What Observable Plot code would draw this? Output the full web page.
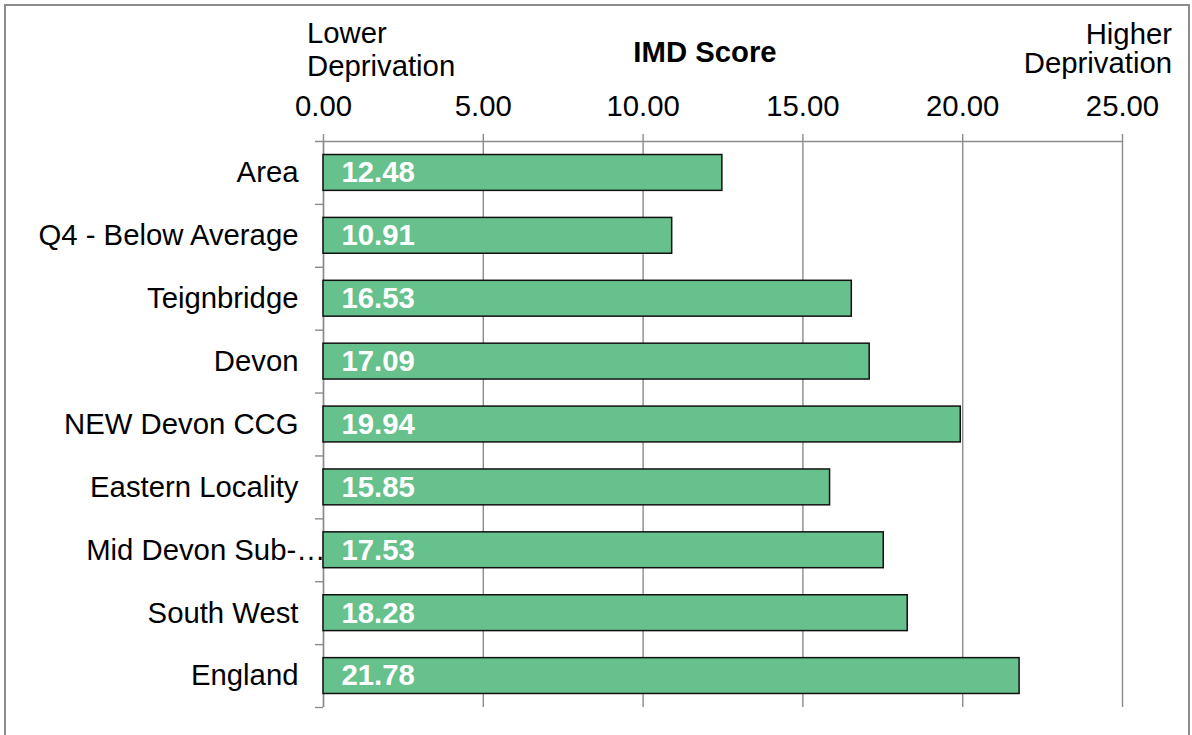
<!DOCTYPE html>
<html>
<head>
<meta charset="utf-8">
<script src="https://cdn.jsdelivr.net/npm/d3@7"></script>
<script src="https://cdn.jsdelivr.net/npm/@observablehq/plot@0.6"></script>
<style>
  html, body { margin: 0; padding: 0; background: #fff; overflow: hidden; }
  #wrap { position: relative; width: 1192px; height: 735px; font-family: "Liberation Sans", Arial, sans-serif; }
  #border { position: absolute; left: 4px; top: 4px; width: 1186px; height: 745px; border: 2px solid #8c8c8c; box-sizing: border-box; }
  #chart { position: absolute; left: 0; top: 0; }
</style>
</head>
<body>
<div id="wrap"><div id="border"></div><div id="chart"></div></div>
<script>
const categories = ["Area", "Q4 - Below Average", "Teignbridge", "Devon", "NEW Devon CCG", "Eastern Locality", "Mid Devon Sub-…", "South West", "England"];
const values = [12.48, 10.91, 16.53, 17.09, 19.94, 15.85, 17.53, 18.28, 21.78];
const xTicks = [0, 5, 10, 15, 20, 25];
const title = "IMD Score";
const lowLabel = ["Lower", "Deprivation"];
const highLabel = ["Higher", "Deprivation"];
const truncated = "Mid Devon Sub-…";

const data = categories.map((c, i) => ({category: c, value: values[i]}));

const W = 1192, H = 735;
const mt = 141, mr = 70, mb = 28, ml = 323;
const step = (H - mt - mb) / categories.length;
const pxPerUnit = (W - ml - mr) / 25;
const tickLen = 8;
const FS = 29.3;
const gray = "#8c8c8c";

const chart = Plot.plot({
  width: W, height: H,
  marginTop: mt, marginRight: mr, marginBottom: mb, marginLeft: ml,
  style: {fontFamily: '"Liberation Sans", Arial, sans-serif', fontSize: FS + "px", color: "black", background: "transparent"},
  x: {domain: [0, 25]},
  y: {domain: categories, paddingInner: 0.43, paddingOuter: 0.215, round: false},
  marks: [
    Plot.gridX(xTicks, {stroke: gray, strokeOpacity: 1, strokeWidth: 1.4}),
    Plot.axisX(xTicks, {anchor: "top", tickSize: tickLen, tickPadding: 18, tickFormat: d => d.toFixed(2), stroke: gray, strokeWidth: 1.4, fill: "black", fontSize: FS, label: null}),
    Plot.axisY({tickSize: 0, tickPadding: 25, fontSize: FS, fill: "black", label: null, tickFormat: d => d === truncated ? "" : d}),
    // category boundary ticks on the y axis
    Plot.ruleY(categories, {y: d => d, dy: -step / 2, x1: -tickLen / pxPerUnit, x2: (d, i) => i === 0 ? 25 : 0, stroke: gray, strokeWidth: 1.4}),
    Plot.ruleY(categories.slice(-1), {y: d => d, dy: step / 2, x1: -tickLen / pxPerUnit, x2: 0, stroke: gray, strokeWidth: 1.4}),
    Plot.ruleX([0], {stroke: gray, strokeWidth: 1.4}),
    Plot.barX(data, {x: "value", y: "category", fill: "#67c18d", stroke: "#111", strokeWidth: 1.5}),
    Plot.text(data, {x: 0, y: "category", text: d => d.value.toFixed(2), textAnchor: "start", dx: 18, fill: "white", fontWeight: "bold", fontSize: FS}),
    Plot.text([truncated], {x: 0, y: d => d, text: d => d, textAnchor: "end", dx: 2, fill: "black", fontSize: FS})
  ]
});
document.getElementById("chart").appendChild(chart);

// header annotations
const svg = d3.select(chart);
const g = svg.append("g").attr("font-family", '"Liberation Sans", Arial, sans-serif').attr("font-size", FS).attr("fill", "black");
g.append("text").attr("x", 705).attr("y", 62).attr("text-anchor", "middle").attr("font-weight", "bold").text(title);
g.append("text").attr("x", 307).attr("y", 43.3).attr("text-anchor", "start").text(lowLabel[0]);
g.append("text").attr("x", 307).attr("y", 76).attr("text-anchor", "start").text(lowLabel[1]);
g.append("text").attr("x", 1172).attr("y", 44.3).attr("text-anchor", "end").text(highLabel[0]);
g.append("text").attr("x", 1172).attr("y", 73.3).attr("text-anchor", "end").text(highLabel[1]);
</script>
</body>
</html>
